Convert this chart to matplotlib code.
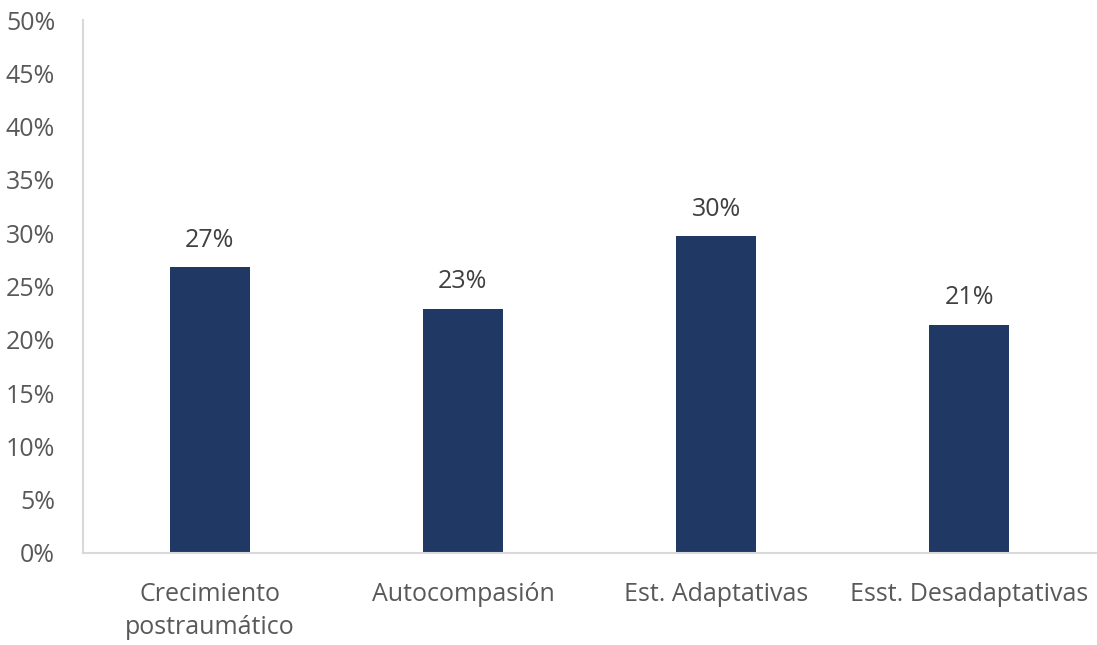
import numpy as np
import matplotlib
matplotlib.use("Agg")
import matplotlib.pyplot as plt
from matplotlib.ticker import PercentFormatter

categories = ["Crecimiento\npostraumático", "Autocompasión", "Est. Adaptativas", "Esst. Desadaptativas"]
values = [0.268, 0.229, 0.297, 0.214]
yticks = [0, 0.05, 0.10, 0.15, 0.20, 0.25, 0.30, 0.35, 0.40, 0.45, 0.50]

plt.rcParams['font.family'] = ['Open Sans', 'DejaVu Sans']

fig = plt.figure(figsize=(10.97, 6.45), dpi=100)
ax = fig.add_axes([83/1097, 1-553/645, 1013/1097, 533/645])

x = np.arange(len(categories))
bars = ax.bar(x, values, width=0.316, color="#203864")

for b, v in zip(bars, values):
	ax.text(b.get_x()+b.get_width()/2, v+0.0135, "{:.0%}".format(v), ha="center", va="bottom",
		fontsize=18, color="#404040")

ax.set_xlim(-0.5, 3.5)
ax.set_ylim(0, 0.5)
ax.set_yticks(yticks)
ax.yaxis.set_major_formatter(PercentFormatter(1.0, decimals=0))
ax.set_xticks(x)
ax.set_xticklabels(categories, fontsize=18, color="#595959", linespacing=1.4)
ax.tick_params(axis="y", labelsize=18, labelcolor="#595959", length=0, pad=20)
ax.tick_params(axis="x", length=0, pad=21)

for s in ["top", "right"]:
	ax.spines[s].set_visible(False)
for s in ["left", "bottom"]:
	ax.spines[s].set_color("#D9D9D9")
	ax.spines[s].set_linewidth(1.5)

fig.savefig("out.png", dpi=100)
